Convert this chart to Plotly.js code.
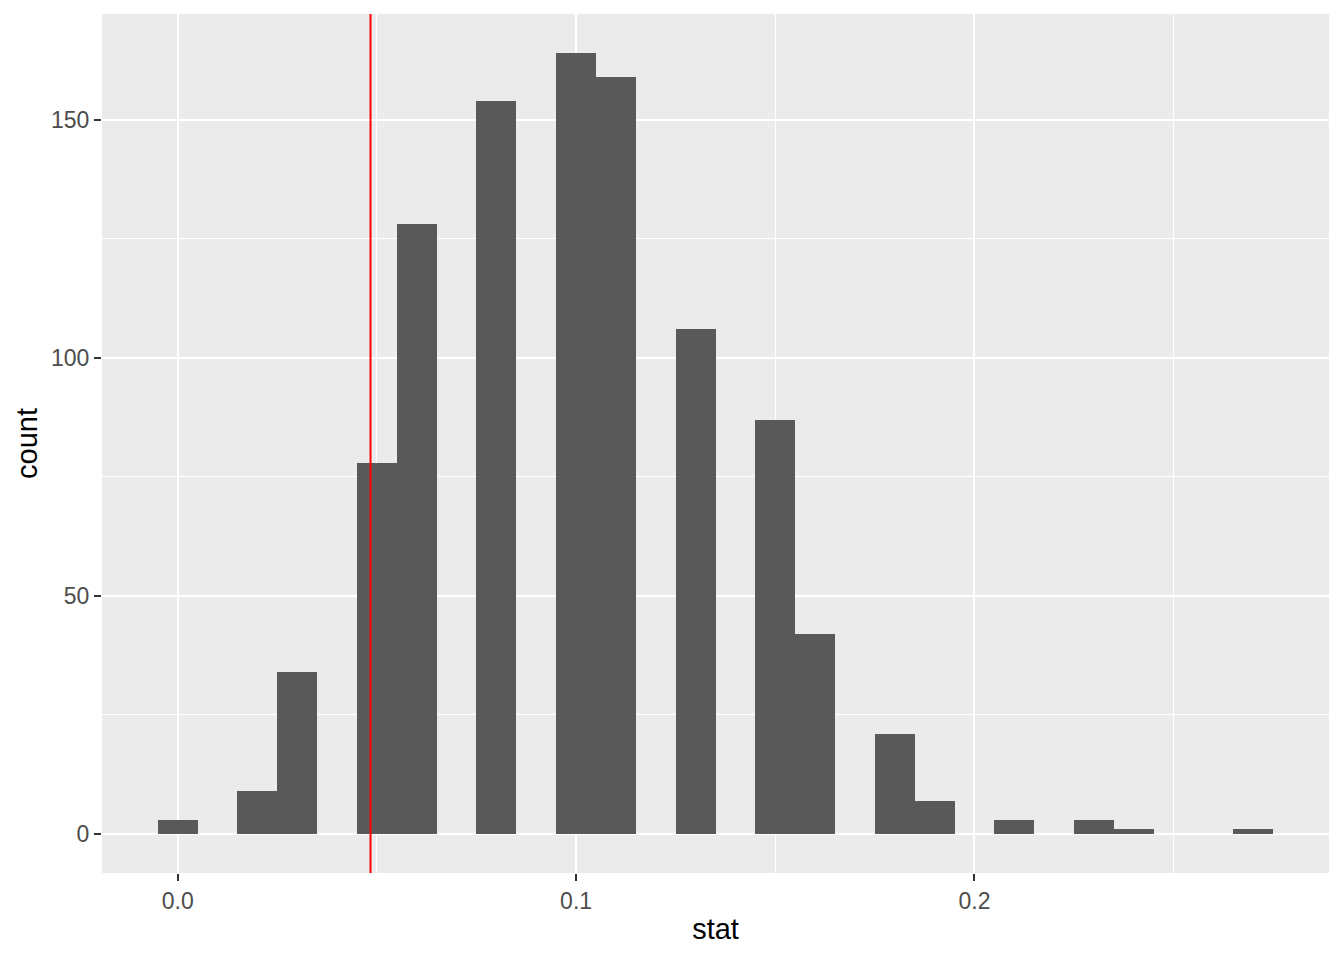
<!DOCTYPE html>
<html>
<head>
<meta charset="utf-8">
<script src="https://cdn.plot.ly/plotly-3.0.1.min.js"></script>
<style>html,body{margin:0;padding:0;background:#fff;}#chart{width:1344px;height:960px;}</style>
</head>
<body>
<div id="chart"></div>
<script>
// Histogram bins (centres) and counts
const binCenters = [0.00, 0.02, 0.03, 0.05, 0.06, 0.08, 0.10, 0.11, 0.13, 0.15, 0.16, 0.18, 0.19, 0.21, 0.23, 0.24, 0.27];
const counts     = [3,    9,    34,   78,   128,  154,  164,  159,  106,  87,   42,   21,   7,    3,    3,    1,    1];
const binWidth = 0.01;
const observedStat = [0.0484];
const xTickVals = [0, 0.1, 0.2];
const xTickText = ["0.0", "0.1", "0.2"];
const xMinorVals = [0.05, 0.15, 0.25];
const yTickVals = [0, 50, 100, 150];
const yTickText = ["0", "50", "100", "150"];
const yMinorVals = [25, 75, 125];

const font = "Liberation Sans, Arial, sans-serif";

const trace = {
  type: 'bar',
  x: binCenters,
  y: counts,
  width: binCenters.map(() => binWidth),
  marker: {color: '#595959', line: {width: 0}},
  hoverinfo: 'x+y'
};

const layout = {
  width: 1344, height: 960,
  margin: {l: 102, r: 15, t: 14, b: 87},
  paper_bgcolor: '#FFFFFF',
  plot_bgcolor: '#EBEBEB',
  showlegend: false,
  bargap: 0,
  font: {family: font, color: '#4D4D4D'},
  xaxis: {
    range: [-0.019, 0.289],
    tickvals: xTickVals, ticktext: xTickText,
    ticks: 'outside', ticklen: 7, tickwidth: 2, tickcolor: '#333333',
    tickfont: {family: font, size: 23, color: '#4D4D4D'},
    showgrid: true, gridcolor: '#FFFFFF', gridwidth: 2,
    minor: {tickvals: xMinorVals, showgrid: true, gridcolor: '#FFFFFF', gridwidth: 1, ticks: ''},
    zeroline: false, showline: false,
    title: {text: 'stat', font: {family: font, size: 29, color: '#000000'}, standoff: 6},
    automargin: false
  },
  yaxis: {
    range: [-8.2, 172.2],
    tickvals: yTickVals, ticktext: yTickText,
    ticks: 'outside', ticklen: 7, tickwidth: 2, tickcolor: '#333333',
    tickfont: {family: font, size: 23, color: '#4D4D4D'},
    showgrid: true, gridcolor: '#FFFFFF', gridwidth: 2,
    minor: {tickvals: yMinorVals, showgrid: true, gridcolor: '#FFFFFF', gridwidth: 1, ticks: ''},
    zeroline: false, showline: false,
    title: {text: 'count', font: {family: font, size: 29, color: '#000000'}, standoff: 4},
    automargin: false
  },
  shapes: observedStat.map(v => ({
    type: 'line', xref: 'x', yref: 'paper', x0: v, x1: v, y0: 0, y1: 1,
    line: {color: '#FF0000', width: 2}, layer: 'above'
  }))
};

Plotly.newPlot('chart', [trace], layout, {displayModeBar: false, staticPlot: true});
</script>
</body>
</html>
